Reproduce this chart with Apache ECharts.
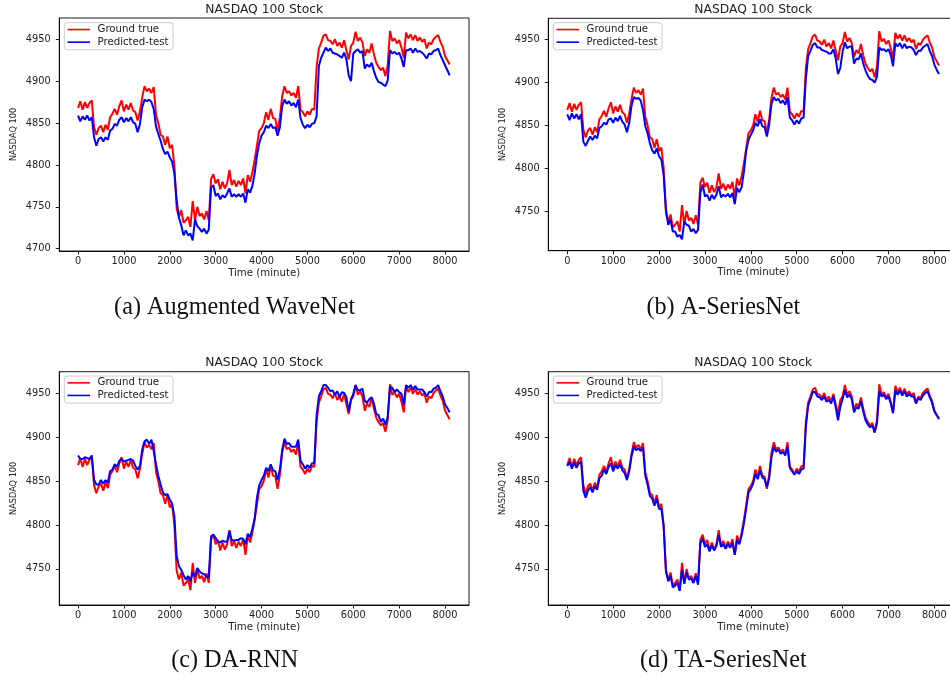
<!DOCTYPE html>
<html>
<head>
<meta charset="utf-8">
<script src="https://cdn.jsdelivr.net/npm/echarts@6/dist/echarts.min.js"></script>
<style>
html,body{margin:0;padding:0;background:#fff;}
#chart{width:950px;height:678px;}
</style>
</head>
<body>
<div id="chart"></div>
<script>
// Time (minute), sampled every 50 minutes
const minutes = [
0,50,100,150,200,250,300,350,400,450,
500,550,600,650,700,750,800,850,900,950,
1000,1050,1100,1150,1200,1250,1300,1350,1400,1450,
1500,1550,1600,1650,1700,1750,1800,1850,1900,1950,
2000,2050,2100,2150,2200,2250,2300,2350,2400,2450,
2500,2550,2600,2650,2700,2750,2800,2850,2900,2950,
3000,3050,3100,3150,3200,3250,3300,3350,3400,3450,
3500,3550,3600,3650,3700,3750,3800,3850,3900,3950,
4000,4050,4100,4150,4200,4250,4300,4350,4400,4450,
4500,4550,4600,4650,4700,4750,4800,4850,4900,4950,
5000,5050,5100,5150,5200,5250,5300,5350,5400,5450,
5500,5550,5600,5650,5700,5750,5800,5850,5900,5950,
6000,6050,6100,6150,6200,6250,6300,6350,6400,6450,
6500,6550,6600,6650,6700,6750,6800,6850,6900,6950,
7000,7050,7100,7150,7200,7250,7300,7350,7400,7450,
7500,7550,7600,7650,7700,7750,7800,7850,7900,7950,
8000,8050,8100];

// Ground truth NASDAQ 100 (same in every panel)
const groundTrue = [
4868,4876,4866,4875,4868,4874,4877,4845,4836,4844,
4847,4839,4848,4842,4857,4861,4867,4860,4870,4877,
4864,4872,4866,4874,4865,4863,4853,4864,4881,4894,
4888,4891,4886,4893,4860,4850,4836,4834,4824,4834,
4820,4824,4800,4748,4738,4746,4731,4734,4738,4726,
4757,4734,4750,4739,4742,4735,4745,4734,4783,4789,
4778,4783,4771,4780,4772,4778,4794,4776,4782,4774,
4781,4776,4784,4766,4788,4780,4791,4806,4823,4841,
4844,4850,4863,4854,4867,4856,4855,4841,4857,4882,
4894,4886,4888,4883,4886,4880,4894,4866,4863,4858,
4864,4860,4867,4866,4917,4939,4946,4954,4956,4949,
4948,4944,4950,4942,4946,4940,4949,4937,4926,4942,
4946,4959,4948,4952,4946,4930,4938,4934,4945,4932,
4922,4917,4913,4916,4906,4919,4960,4948,4951,4945,
4949,4940,4928,4958,4951,4956,4949,4955,4948,4952,
4947,4950,4939,4946,4944,4950,4953,4955,4947,4941,
4930,4925,4920];

// (a) Augmented WaveNet prediction
const predA = [
4859,4852,4858,4854,4859,4853,4857,4833,4823,4831,
4833,4828,4833,4830,4841,4843,4849,4847,4854,4857,
4851,4856,4852,4857,4851,4849,4839,4849,4869,4878,
4876,4878,4875,4867,4846,4837,4829,4819,4813,4816,
4809,4804,4790,4758,4737,4728,4716,4722,4716,4718,
4710,4735,4727,4724,4720,4724,4718,4723,4773,4776,
4763,4766,4759,4764,4761,4766,4772,4762,4765,4762,
4765,4762,4766,4755,4771,4767,4775,4790,4811,4826,
4835,4839,4847,4844,4849,4844,4845,4835,4845,4870,
4878,4873,4876,4871,4874,4869,4878,4856,4848,4844,
4848,4845,4849,4850,4858,4918,4928,4934,4940,4936,
4939,4934,4933,4932,4930,4928,4934,4926,4907,4900,
4933,4936,4938,4934,4936,4915,4920,4917,4922,4912,
4904,4899,4898,4896,4894,4901,4937,4933,4935,4932,
4934,4927,4917,4937,4937,4939,4934,4939,4935,4936,
4934,4931,4927,4933,4932,4936,4937,4939,4931,4925,
4919,4913,4907];

// (b) A-SeriesNet prediction
const predB = [
4863,4856,4864,4858,4863,4857,4863,4831,4826,4832,
4837,4833,4838,4835,4847,4849,4853,4851,4857,4858,
4853,4859,4855,4861,4854,4851,4842,4853,4873,4883,
4881,4882,4879,4868,4849,4841,4829,4821,4817,4823,
4814,4810,4792,4752,4734,4740,4726,4726,4720,4722,
4717,4738,4734,4733,4726,4729,4724,4728,4771,4781,
4767,4769,4762,4769,4764,4769,4779,4766,4769,4767,
4770,4766,4771,4758,4777,4772,4778,4796,4821,4833,
4839,4844,4853,4849,4857,4849,4848,4837,4851,4875,
4883,4879,4881,4876,4879,4874,4883,4859,4856,4851,
4856,4852,4858,4859,4905,4931,4937,4944,4946,4941,
4941,4938,4937,4936,4934,4934,4939,4928,4910,4917,
4936,4947,4940,4942,4942,4922,4928,4927,4934,4922,
4914,4908,4904,4903,4900,4907,4941,4938,4939,4936,
4939,4932,4919,4946,4942,4946,4940,4945,4940,4942,
4941,4938,4932,4937,4937,4941,4943,4945,4937,4931,
4921,4915,4910];

// (c) DA-RNN prediction
const predC = [
4879,4875,4875,4877,4876,4875,4879,4851,4846,4846,
4851,4847,4851,4848,4861,4863,4869,4866,4873,4875,
4872,4873,4874,4875,4873,4867,4863,4867,4886,4895,
4897,4892,4897,4884,4869,4856,4846,4837,4834,4835,
4829,4824,4810,4765,4753,4749,4743,4738,4742,4736,
4746,4741,4751,4747,4745,4744,4741,4741,4787,4789,
4785,4781,4780,4782,4781,4781,4793,4783,4782,4783,
4783,4785,4784,4778,4790,4786,4796,4807,4831,4845,
4851,4856,4865,4861,4869,4862,4861,4851,4863,4885,
4898,4892,4893,4889,4889,4889,4897,4873,4869,4864,
4868,4865,4870,4870,4925,4946,4952,4959,4959,4956,
4952,4953,4948,4952,4945,4951,4950,4945,4929,4943,
4949,4959,4953,4953,4955,4941,4939,4943,4945,4938,
4926,4925,4917,4921,4914,4923,4957,4956,4951,4954,
4951,4949,4937,4959,4956,4959,4954,4958,4954,4954,
4954,4951,4946,4951,4951,4955,4956,4959,4952,4946,
4937,4933,4928];

// (d) TA-SeriesNet prediction
const predD = [
4867,4872,4864,4871,4865,4870,4872,4839,4831,4839,
4843,4837,4844,4840,4853,4856,4863,4858,4866,4870,
4861,4868,4864,4869,4862,4859,4851,4861,4878,4889,
4885,4887,4884,4888,4856,4846,4833,4830,4822,4830,
4818,4819,4798,4748,4736,4742,4729,4731,4734,4725,
4749,4733,4746,4738,4739,4734,4742,4732,4779,4785,
4775,4778,4770,4777,4771,4776,4789,4775,4778,4773,
4778,4774,4780,4766,4783,4778,4788,4802,4819,4837,
4841,4847,4858,4852,4862,4854,4852,4843,4853,4877,
4889,4883,4886,4881,4883,4879,4889,4865,4861,4857,
4861,4858,4863,4864,4912,4936,4943,4951,4951,4946,
4945,4942,4946,4940,4942,4938,4946,4934,4919,4934,
4943,4953,4945,4948,4943,4928,4934,4932,4941,4929,
4919,4914,4911,4913,4905,4916,4952,4946,4948,4943,
4946,4938,4927,4953,4948,4953,4947,4952,4946,4949,
4946,4946,4938,4944,4942,4947,4950,4952,4945,4939,
4929,4925,4921];

const xTicks = [0,1000,2000,3000,4000,5000,6000,7000,8000];
const yTicksA = [4700,4750,4800,4850,4900,4950];
const yTicksB = [4750,4800,4850,4900,4950];
const yTicksC = [4750,4800,4850,4900,4950];
const yTicksD = [4750,4800,4850,4900,4950];
const predictions = [predA, predB, predC, predD];
const yTicks = [yTicksA, yTicksB, yTicksC, yTicksD];
const captions = ['(a) Augmented WaveNet', '(b) A-SeriesNet', '(c) DA-RNN', '(d) TA-SeriesNet'];
const chartTitle = 'NASDAQ 100 Stock';
const seriesNames = ['Ground true', 'Predicted-test'];

// layout (pixels)
const panels = [
  {left:59.3, top:18, width:409.7, height:233, xMin:-408, xMax:8522, yMin:4697.3, yMax:4975.4, legL:64.3, legT:22.7, capX:234.7, capY:307.5},
  {left:548.3, top:18.3, width:410, height:232.4, xMin:-414, xMax:8522, yMin:4703.7, yMax:4975, legL:553.3, legT:22.7, capX:723.3, capY:307.5},
  {left:59.3, top:371.7, width:409.7, height:233.3, xMin:-408, xMax:8522, yMin:4709, yMax:4974.2, legL:64.3, legT:376, capX:234.7, capY:661},
  {left:548.3, top:371.7, width:410, height:233.3, xMin:-414, xMax:8522, yMin:4709, yMax:4974.2, legL:553.3, legT:376, capX:723.3, capY:661}
];

const FONT = 'DejaVu Sans';
const grid = [], xAxis = [], yAxis = [], series = [], legend = [], graphic = [];
panels.forEach((p, i) => {
  grid.push({left:p.left, top:p.top, width:p.width, height:p.height, show:true, borderColor:'#000', borderWidth:0.9, backgroundColor:'transparent', containLabel:false, outerBoundsMode:'none'});
  xAxis.push({
    type:'value', gridIndex:i, min:p.xMin, max:p.xMax,
    axisLine:{show:true, onZero:false, lineStyle:{color:'#000', width:0.9}},
    splitLine:{show:false},
    axisTick:{show:true, inside:false, length:3.5, lineStyle:{color:'#000', width:0.9}, customValues:xTicks},
    axisLabel:{show:true, margin:5.5, fontFamily:FONT, fontSize:9.8, color:'#222', customValues:xTicks, formatter: v => String(v)},
    name:'Time (minute)', nameLocation:'middle', nameGap:17,
    nameTextStyle:{fontFamily:FONT, fontSize:10.2, color:'#222'}
  });
  yAxis.push({
    type:'value', gridIndex:i, min:p.yMin, max:p.yMax,
    axisLine:{show:true, onZero:false, lineStyle:{color:'#000', width:0.9}},
    splitLine:{show:false},
    axisTick:{show:true, inside:false, length:3.5, lineStyle:{color:'#000', width:0.9}, customValues:yTicks[i]},
    axisLabel:{show:true, margin:8.5, fontFamily:FONT, fontSize:9.8, color:'#222', customValues:yTicks[i], formatter: v => String(v)},
    name:'NASDAQ 100', nameLocation:'middle', nameGap:41, nameRotate:90,
    nameTextStyle:{fontFamily:FONT, fontSize:8.2, color:'#222'}
  });
  series.push({
    type:'line', name:seriesNames[0], xAxisIndex:i, yAxisIndex:i,
    data: minutes.map((t, k) => [t, groundTrue[k]]),
    showSymbol:false, symbol:'none', color:'#ff0000',
    lineStyle:{color:'#ff0000', width:2}, animation:false, z:2
  });
  series.push({
    type:'line', name:seriesNames[1], xAxisIndex:i, yAxisIndex:i,
    data: minutes.map((t, k) => [t, predictions[i][k]]),
    showSymbol:false, symbol:'none', color:'#0000ff',
    lineStyle:{color:'#0000ff', width:2}, animation:false, z:3
  });
  legend.push({
    left:p.legL, top:p.legT, orient:'vertical', icon:'rect',
    itemWidth:22.5, itemHeight:1.6, itemGap:1.3,
    padding:[1.2, 4.5, 2, 3.2],
    borderColor:'#cccccc', borderWidth:1, borderRadius:3, backgroundColor:'#fff',
    textStyle:{fontFamily:FONT, fontSize:10.2, color:'#222', padding:[0,0,0,2.5], lineHeight:11.3},
    data:seriesNames, selectedMode:false
  });
  graphic.push({
    type:'text', x:p.left + p.width / 2, y:p.top - 8.5,
    style:{text:chartTitle, fontFamily:FONT, fontSize:12.3, fill:'#222', textAlign:'center', textVerticalAlign:'middle'}
  });
  graphic.push({
    type:'text', x:p.capX, y:p.capY,
    style:{text:captions[i], fontFamily:'Liberation Serif', fontSize:24.2, fill:'#111', textAlign:'center', textVerticalAlign:'middle'}
  });
});

const chart = echarts.init(document.getElementById('chart'), null, {renderer:'canvas'});
chart.setOption({
  animation:false,
  backgroundColor:'#ffffff',
  grid, xAxis, yAxis, series, legend, graphic
});
</script>
</body>
</html>
